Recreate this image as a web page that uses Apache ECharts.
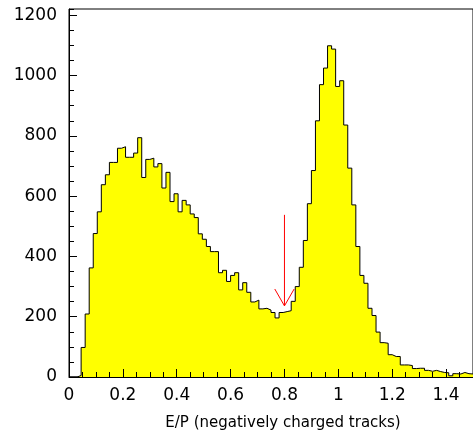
<!DOCTYPE html>
<html>
<head>
<meta charset="utf-8">
<script src="https://cdn.jsdelivr.net/npm/echarts@6/dist/echarts.min.js"></script>
<style>
html,body{margin:0;padding:0;background:#fff;}
#chart{width:473px;height:439px;}
</style>
</head>
<body>
<div id="chart"></div>
<script>
// Histogram: E/P for negatively charged tracks, 100 bins of width 0.015 from 0
const binStart = 0;
const binWidth = 0.015;
const counts = [
  0, 0, 5, 98, 209, 362, 476, 548, 638, 671,
  712, 712, 759, 764, 729, 729, 743, 794, 662, 722,
  726, 697, 708, 627, 679, 582, 608, 548, 586, 571,
  541, 529, 475, 457, 433, 416, 416, 346, 354, 317,
  337, 346, 289, 313, 281, 249, 255, 226, 228, 222,
  214, 196, 214, 217, 220, 251, 300, 364, 453, 575,
  685, 850, 970, 1025, 1099, 1088, 964, 983, 836, 693,
  571, 433, 337, 311, 228, 204, 149, 114, 112, 74,
  68, 68, 40, 40, 38, 28, 29, 29, 22, 19,
  22, 18, 15, 14, 4, 11, 10, 15, 11, 10
];
// Axis settings
const xMin = 0, xMax = 1.5, xMajor = 0.2, xMinor = 0.05;
const yMin = 0, yMax = 1221, yMajor = 200, yMinor = 50;
const xTitle = 'E/P (negatively charged tracks)';
// Arrow annotation (data coordinates)
const arrowShaft = [[0.8, 538], [0.8, 236]];
const arrowHead = [[0.764, 292], [0.8, 236], [0.836, 292]];

const stepData = counts.map((v, k) => [binStart + k * binWidth, v]);
stepData.push([binStart + counts.length * binWidth, counts[counts.length - 1]]);

const font = '"DejaVu Sans", Verdana, sans-serif';
const chart = echarts.init(document.getElementById('chart'), null, {renderer: 'canvas'});
chart.setOption({
  animation: false,
  backgroundColor: '#fff',
  grid: {left: 69, right: -6, top: 9, bottom: 62, show: true, borderColor: '#000', borderWidth: 1, backgroundColor: 'transparent'},
  xAxis: [
    {
      type: 'value', min: xMin, max: xMax, interval: xMinor, position: 'bottom', z: 5,
      axisLine: {show: true, lineStyle: {color: '#000', width: 1}},
      axisTick: {show: true, inside: true, length: 5, lineStyle: {color: '#000', width: 1}},
      axisLabel: {show: false},
      splitLine: {show: false}
    },
    {
      type: 'value', min: xMin, max: xMax, interval: xMajor, position: 'bottom', z: 5,
      axisLine: {show: false},
      axisTick: {show: true, inside: true, length: 8, lineStyle: {color: '#000', width: 1}},
      axisLabel: {show: true, color: '#000', fontSize: 17, fontFamily: font, margin: 10, showMaxLabel: false,
        formatter: v => String(Math.round(v * 10) / 10)},
      splitLine: {show: false},
      name: xTitle, nameLocation: 'middle', nameGap: 39,
      nameTextStyle: {color: '#000', fontSize: 15, fontFamily: font, padding: [0, 0, 0, 24]}
    }
  ],
  yAxis: [
    {
      type: 'value', min: yMin, max: yMax, interval: yMinor, position: 'left', z: 5,
      axisLine: {show: true, lineStyle: {color: '#000', width: 1}},
      axisTick: {show: true, inside: true, length: 5, lineStyle: {color: '#000', width: 1}},
      axisLabel: {show: false},
      splitLine: {show: false}
    },
    {
      type: 'value', min: yMin, max: yMax, interval: yMajor, position: 'left', z: 5,
      axisLine: {show: false},
      axisTick: {show: true, inside: true, length: 8, lineStyle: {color: '#000', width: 1}},
      axisLabel: {show: true, color: '#000', fontSize: 17, fontFamily: font, margin: 12, showMaxLabel: false,
        formatter: v => String(Math.round(v))},
      splitLine: {show: false}
    }
  ],
  series: [
    {
      type: 'line', xAxisIndex: 0, yAxisIndex: 0, step: 'end', data: stepData,
      showSymbol: false, symbol: 'none', silent: true,
      lineStyle: {color: '#000', width: 1},
      areaStyle: {color: '#ffff00', opacity: 1, origin: 'start'},
      z: 2
    },
    {
      type: 'line', xAxisIndex: 0, yAxisIndex: 0, data: arrowShaft,
      symbol: 'none', lineStyle: {color: '#ff0000', width: 1}, z: 6
    },
    {
      type: 'line', xAxisIndex: 0, yAxisIndex: 0, data: arrowHead,
      symbol: 'none', lineStyle: {color: '#ff0000', width: 1}, z: 6
    }
  ]
});
</script>
</body>
</html>
